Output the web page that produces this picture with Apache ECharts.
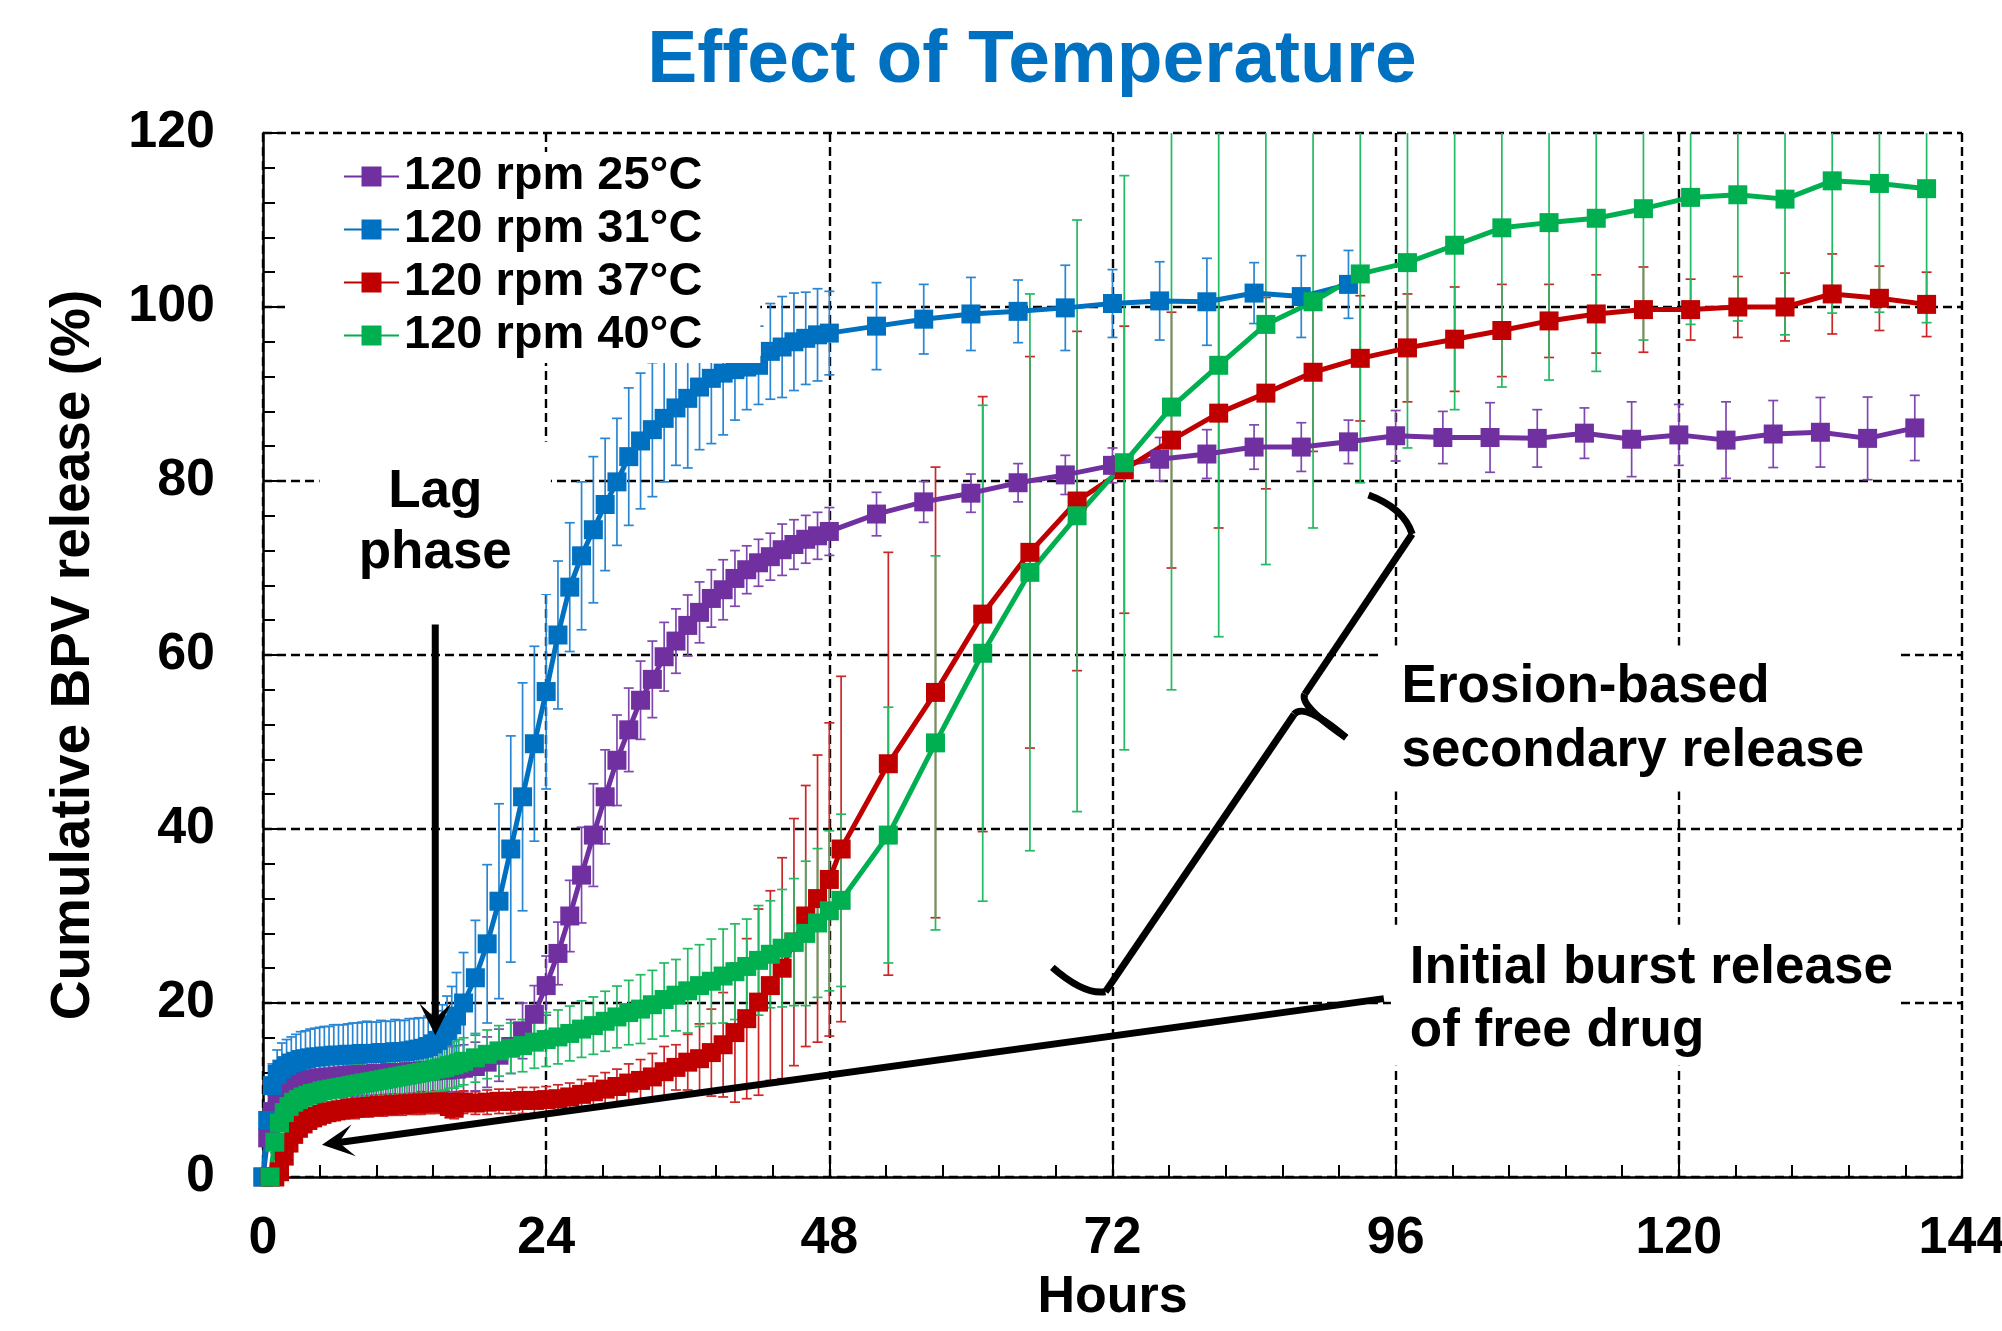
<!DOCTYPE html>
<html>
<head>
<meta charset="utf-8">
<title>Effect of Temperature</title>
<script src="https://cdn.jsdelivr.net/npm/echarts@6/dist/echarts.min.js"></script>
<style>
  html, body { margin: 0; padding: 0; background: #ffffff; }
  #chart { width: 2002px; height: 1331px; }
</style>
</head>
<body>
<div id="chart"></div>
<script>
// ---------------------------------------------------------------------------
// Cumulative BPV release (%) vs. time (h), 120 rpm, four incubation temperatures.
// Means with standard deviations.
// ---------------------------------------------------------------------------

// Sampling times (h) for the 25 °C and 31 °C runs
const HOURS_A = [
  0, 0.4, 0.8, 1.2, 1.6, 2, 2.4, 2.8, 3.2, 3.6, 4, 4.4, 4.8, 5.2, 5.6, 6, 6.4, 6.8, 7.2, 7.6,
  8, 8.4, 8.8, 9.2, 9.6, 10, 10.4, 10.8, 11.2, 11.6, 12, 12.4, 12.8, 13.2, 13.6, 14, 14.4, 14.8,
  15.2, 15.6, 16, 16.4,
  17, 18, 19, 20, 21, 22, 23, 24, 25, 26, 27, 28, 29, 30, 31, 32, 33, 34, 35, 36, 37, 38, 39, 40,
  41, 42, 43, 44, 45, 46, 47, 48,
  52, 56, 60, 64, 68, 72, 76, 80, 84, 88, 92, 96, 100, 104, 108, 112, 116, 120, 124, 128, 132, 136, 140
];

// Sampling times (h) for the 37 °C and 40 °C runs
const HOURS_B = [
  0.6, 1, 1.4, 1.8, 2.2, 2.6, 3, 3.4, 3.8, 4.2, 4.6, 5, 5.4, 5.8, 6.2, 6.6, 7, 7.4, 7.8, 8.2,
  8.6, 9, 9.4, 9.8, 10.2, 10.6, 11, 11.4, 11.8, 12.2, 12.6, 13, 13.4, 13.8, 14.2, 14.6, 15, 15.4,
  15.8, 16.2, 16.6,
  17, 18, 19, 20, 21, 22, 23, 24, 25, 26, 27, 28, 29, 30, 31, 32, 33, 34, 35, 36, 37, 38, 39, 40,
  41, 42, 43, 44, 45, 46, 47, 48, 49,
  53, 57, 61, 65, 69, 73, 77, 81, 85, 89, 93, 97, 101, 105, 109, 113, 117, 121, 125, 129, 133, 137, 141
];

const SERIES_NAMES = ['120 rpm 25°C', '120 rpm 31°C', '120 rpm 37°C', '120 rpm 40°C'];

// 120 rpm, 25 °C
const RELEASE_25C = [
  0, 4.5, 7.5, 9.0, 9.8, 10.3, 10.6, 10.8, 11.0, 11.1, 11.2, 11.3, 11.4, 11.4, 11.5, 11.5, 11.6, 11.6,
  11.7, 11.7, 11.7, 11.8, 11.8, 11.8, 11.9, 11.9, 11.9, 12.0, 12.0, 12.0, 12.0, 12.1, 12.1, 12.1, 12.2,
  12.2, 12.2, 12.3, 12.3, 12.3, 12.4, 12.4,
  12.5, 12.7, 13.2, 14.0, 15.0, 16.8, 18.7, 22.0, 25.7, 30.0, 34.7, 39.3, 43.7, 47.9, 51.4, 54.8, 57.2,
  59.8, 61.6, 63.4, 64.9, 66.5, 67.5, 68.8, 69.8, 70.6, 71.3, 72.1, 72.7, 73.3, 73.7, 74.2,
  76.2, 77.6, 78.6, 79.8, 80.7, 81.8, 82.5, 83.1, 83.9, 83.9, 84.5, 85.2, 85.0, 85.0, 84.9, 85.5, 84.8,
  85.3, 84.7, 85.4, 85.6, 84.9, 86.1
];
const SD_25C = [
  0, 1.4, 1.9, 2.1, 2.2, 2.3, 2.2, 2.3, 2.4, 2.3, 2.3, 2.4, 2.3, 2.4, 2.4, 2.3, 2.4, 2.5, 2.4, 2.4,
  2.5, 2.4, 2.5, 2.4, 2.5, 2.5, 2.4, 2.5, 2.5, 2.6, 2.5, 2.5, 2.6, 2.5, 2.6, 2.6, 2.5, 2.6, 2.6, 2.7,
  2.6, 2.7,
  2.7, 2.8, 2.9, 3.0, 3.1, 3.2, 3.3, 3.4, 3.6, 4.1, 5.5, 5.9, 5.4, 5.2, 4.8, 4.5, 4.4, 3.95, 3.7, 3.5,
  3.5, 3.3, 3.45, 3.2, 2.75, 2.7, 2.7, 2.95, 2.85, 2.75, 2.7, 2.75,
  2.5, 2.35, 2.2, 2.2, 2.25, 2.0, 2.5, 2.8, 2.55, 2.8, 2.5, 2.9, 3.0, 4.0, 3.3, 2.9, 4.3, 3.5, 4.4,
  3.85, 4.0, 4.75, 3.75
];

// 120 rpm, 31 °C
const RELEASE_31C = [
  0, 6.5, 10.5, 11.8, 12.4, 12.8, 13.1, 13.3, 13.5, 13.6, 13.7, 13.8, 13.8, 13.9, 13.9, 14.0, 14.0,
  14.0, 14.1, 14.1, 14.1, 14.2, 14.2, 14.2, 14.2, 14.3, 14.3, 14.3, 14.4, 14.4, 14.4, 14.5, 14.6, 14.7,
  14.8, 15.0, 15.3, 15.7, 16.2, 16.8, 17.5, 18.5,
  20.0, 22.9, 26.8, 31.7, 37.7, 43.7, 49.8, 55.8, 62.3, 67.8, 71.4, 74.4, 77.3, 79.9, 82.8, 84.6, 85.9,
  87.2, 88.4, 89.5, 90.8, 91.8, 92.4, 92.8, 93.1, 93.3, 94.9, 95.4, 96.0, 96.4, 96.8, 97.0,
  97.8, 98.6, 99.2, 99.5, 99.9, 100.4, 100.7, 100.6, 101.6, 101.2, 102.6
];
const SD_31C = [
  0, 2.0, 2.5, 2.8, 3.0, 3.0, 3.0, 3.1, 3.2, 3.2, 3.3, 3.3, 3.4, 3.4, 3.4, 3.5, 3.5, 3.5, 3.5, 3.6,
  3.6, 3.6, 3.7, 3.6, 3.6, 3.7, 3.6, 3.6, 3.7, 3.6, 3.6, 3.7, 3.6, 3.6, 3.5, 3.5, 3.4, 3.4, 3.6, 4.0,
  4.4, 5.0,
  5.8, 6.6, 9.1, 11.2, 13.0, 13.1, 11.2, 11.2, 8.5, 7.4, 8.5, 8.4, 7.6, 7.3, 7.9, 7.8, 7.7, 7.3, 6.6,
  8.0, 7.2, 7.5, 7.1, 5.8, 4.9, 4.5, 5.5, 5.8, 5.6, 5.3, 5.3, 4.8,
  5.0, 4.0, 4.2, 3.6, 4.9, 3.9, 4.5, 5.0, 3.5, 4.7, 3.9
];

// 120 rpm, 37 °C
const RELEASE_37C = [
  0, 0, 0.6, 2.4, 3.9, 4.9, 5.6, 6.1, 6.5, 6.8, 7.0, 7.2, 7.4, 7.5, 7.6, 7.7, 7.8, 7.9, 7.9, 8.0,
  8.0, 8.1, 8.1, 8.2, 8.2, 8.2, 8.3, 8.3, 8.3, 8.4, 8.4, 8.4, 8.5, 8.5, 8.5, 8.6, 8.6, 8.6, 8.1, 7.9,
  8.5,
  8.6, 8.5, 8.6, 8.7, 8.7, 8.8, 8.8, 8.9, 9.0, 9.2, 9.5, 9.8, 10.1, 10.4, 10.8, 11.1, 11.5, 12.1, 12.6,
  13.2, 13.6, 14.3, 15.2, 16.6, 18.2, 20.1, 22.0, 24.0, 27.0, 30.0, 32.0, 34.2, 37.7,
  47.5, 55.7, 64.7, 71.8, 77.7, 81.3, 84.7, 87.8, 90.1, 92.5, 94.1, 95.3, 96.3, 97.3, 98.4, 99.2, 99.7,
  99.7, 100.0, 100.0, 101.5, 101.0, 100.3
];
const SD_37C = [
  0, 0, 0.4, 0.7, 0.8, 0.9, 0.9, 1.0, 1.0, 1.1, 1.0, 1.1, 1.0, 1.1, 1.1, 1.0, 1.1, 1.1, 1.2, 1.1,
  1.1, 1.2, 1.1, 1.2, 1.2, 1.1, 1.2, 1.2, 1.2, 1.1, 1.2, 1.2, 1.3, 1.2, 1.2, 1.3, 1.2, 1.3, 1.3, 1.2,
  1.3,
  1.3, 1.3, 1.4, 1.4, 1.4, 1.5, 1.5, 1.5, 1.6, 1.6, 1.7, 1.8, 1.9, 2.0, 2.2, 2.4, 2.7, 2.9, 2.6, 3.2,
  4.0, 5.0, 6.0, 8.0, 9.2, 10.7, 10.9, 12.7, 14.2, 15.0, 16.5, 18.0, 19.85,
  24.3, 25.9, 25.0, 22.5, 19.5, 16.5, 14.7, 13.2, 11.0, 9.1, 7.2, 6.2, 6.0, 5.3, 4.2, 4.5, 4.9, 3.5,
  3.5, 3.9, 4.6, 3.7, 3.7
];

// 120 rpm, 40 °C
const RELEASE_40C = [
  0, 4.0, 6.2, 7.4, 8.1, 8.6, 8.9, 9.2, 9.4, 9.6, 9.7, 9.9, 10.0, 10.1, 10.2, 10.3, 10.4, 10.5, 10.6,
  10.7, 10.8, 10.9, 11.0, 11.1, 11.2, 11.3, 11.4, 11.5, 11.6, 11.7, 11.8, 11.9, 12.0, 12.1, 12.2, 12.4,
  12.5, 12.6, 12.8, 12.9, 13.1,
  13.3, 13.7, 14.1, 14.5, 14.8, 15.1, 15.5, 15.8, 16.1, 16.5, 17.0, 17.4, 17.9, 18.4, 18.9, 19.3, 19.8,
  20.4, 20.9, 21.4, 22.0, 22.5, 23.1, 23.6, 24.2, 24.9, 25.6, 26.3, 27.0, 28.0, 29.2, 30.6, 31.8,
  39.3, 49.9, 60.2, 69.5, 76.0, 82.1, 88.5, 93.3, 98.0, 100.6, 103.8, 105.1, 107.1, 109.1, 109.7,
  110.2, 111.3, 112.6, 112.9, 112.4, 114.5, 114.2, 113.6
];
const SD_40C = [
  0, 1.2, 1.6, 1.8, 1.9, 2.0, 2.0, 2.1, 2.1, 2.1, 2.2, 2.2, 2.2, 2.2, 2.3, 2.3, 2.3, 2.3, 2.3, 2.3,
  2.4, 2.4, 2.4, 2.4, 2.4, 2.4, 2.4, 2.5, 2.5, 2.5, 2.5, 2.5, 2.5, 2.5, 2.6, 2.6, 2.6, 2.6, 2.6, 2.7,
  2.7,
  2.7, 2.8, 2.8, 2.9, 2.9, 3.0, 3.0, 3.1, 3.1, 3.15, 3.25, 3.3, 3.45, 3.55, 3.7, 3.95, 3.95, 4.2, 4.1,
  4.85, 4.7, 4.85, 5.4, 5.5, 5.45, 6.3, 6.15, 6.75, 7.3, 8.3, 8.55, 9.2, 9.9,
  14.7, 21.5, 28.5, 32.0, 34.0, 33.0, 32.5, 31.2, 27.6, 26.0, 24.0, 21.3, 18.9, 18.3, 18.1, 17.6, 15.1,
  14.6, 14.5, 15.6, 15.2, 14.8, 15.4
];

// Axis ticks
const X_TICKS = [0, 24, 48, 72, 96, 120, 144];
const Y_TICKS = [0, 20, 40, 60, 80, 100, 120];

// ---------------------------------------------------------------------------
// Styling
// ---------------------------------------------------------------------------
const FONT = '"Liberation Sans", Arial, Helvetica, sans-serif';
const LINE_COLORS = ['#7030A0', '#0070C0', '#C00000', '#00B050'];
const BAR_COLORS  = ['#7F48B0', '#2A86D2', '#CC2626', '#22BA62'];

const runs = [
  { name: SERIES_NAMES[0], hours: HOURS_A, mean: RELEASE_25C, sd: SD_25C },
  { name: SERIES_NAMES[1], hours: HOURS_A, mean: RELEASE_31C, sd: SD_31C },
  { name: SERIES_NAMES[2], hours: HOURS_B, mean: RELEASE_37C, sd: SD_37C },
  { name: SERIES_NAMES[3], hours: HOURS_B, mean: RELEASE_40C, sd: SD_40C }
];

// Vertical SD whisker with end caps
function renderWhisker(params, api) {
  const x = api.value(0);
  const lo = api.coord([x, api.value(1)]);
  const hi = api.coord([x, api.value(2)]);
  const cap = 5;
  const style = { stroke: api.visual('color'), lineWidth: 1.7, fill: null };
  return {
    type: 'group',
    children: [
      { type: 'line', shape: { x1: hi[0], y1: hi[1], x2: lo[0], y2: lo[1] }, style: style },
      { type: 'line', shape: { x1: hi[0] - cap, y1: hi[1], x2: hi[0] + cap, y2: hi[1] }, style: style },
      { type: 'line', shape: { x1: lo[0] - cap, y1: lo[1], x2: lo[0] + cap, y2: lo[1] }, style: style }
    ]
  };
}

const whiskerSeries = runs.map((run, k) => ({
  name: run.name + ' SD',
  type: 'custom',
  z: 2,
  clip: true,
  silent: true,
  animation: false,
  itemStyle: { color: BAR_COLORS[k] },
  encode: { x: 0, y: [1, 2] },
  data: run.mean.map((m, i) => [run.hours[i], m - run.sd[i], m + run.sd[i]]),
  renderItem: renderWhisker
}));

const meanSeries = runs.map((run, k) => ({
  name: run.name,
  type: 'line',
  z: 3,
  clip: false,
  animation: false,
  symbol: 'rect',
  symbolSize: 19,
  showAllSymbol: true,
  lineStyle: { color: LINE_COLORS[k], width: 5 },
  itemStyle: { color: LINE_COLORS[k] },
  emphasis: { disabled: true },
  data: run.mean.map((m, i) => [run.hours[i], m])
}));

const dashed = { show: true, lineStyle: { color: '#000', width: 2.4, type: [9, 5] } };
const axisLine = { show: true, onZero: false, lineStyle: { color: '#000', width: 2.5 } };
const tickLabel = { color: '#000', fontFamily: FONT, fontWeight: 'bold', fontSize: 52 };

const chart = echarts.init(document.getElementById('chart'), null, {
  renderer: 'canvas', width: 2002, height: 1331
});

chart.setOption({
  backgroundColor: '#ffffff',
  animation: false,
  title: {
    text: 'Effect of Temperature',
    left: 1032,
    top: 24,
    textAlign: 'center',
    padding: 0,
    textStyle: { color: '#0070C0', fontFamily: FONT, fontWeight: 'bold', fontSize: 75 }
  },
  grid: {
    left: 263, right: 40, top: 133, bottom: 154,
    containLabel: false, outerBoundsMode: 'none'
  },
  legend: {
    data: SERIES_NAMES,
    orient: 'vertical',
    left: 285,
    top: 152,
    z: 6,
    backgroundColor: '#ffffff',
    padding: [1, 58, 4, 58],
    itemWidth: 55,
    itemHeight: 25,
    itemGap: 6,
    selectedMode: false,
    textStyle: { color: '#000', fontFamily: FONT, fontWeight: 'bold', fontSize: 47, lineHeight: 47 }
  },
  xAxis: {
    type: 'value',
    min: X_TICKS[0],
    max: X_TICKS[X_TICKS.length - 1],
    interval: X_TICKS[1] - X_TICKS[0],
    name: 'Hours',
    nameLocation: 'middle',
    nameGap: 95,
    nameTextStyle: { color: '#000', fontFamily: FONT, fontWeight: 'bold', fontSize: 52 },
    axisLine: axisLine,
    axisTick: { show: true, inside: true, length: 22, lineStyle: { color: '#000', width: 2 } },
    minorTick: { show: true, splitNumber: 5, length: 12, lineStyle: { color: '#000', width: 2 } },
    axisLabel: Object.assign({ margin: 36 }, tickLabel),
    splitLine: dashed,
    minorSplitLine: { show: false }
  },
  yAxis: {
    type: 'value',
    min: Y_TICKS[0],
    max: Y_TICKS[Y_TICKS.length - 1],
    interval: Y_TICKS[1] - Y_TICKS[0],
    name: 'Cumulative BPV release (%)',
    nameLocation: 'middle',
    nameGap: 162,
    nameTextStyle: { color: '#000', fontFamily: FONT, fontWeight: 'bold', fontSize: 55 },
    axisLine: axisLine,
    axisTick: { show: true, inside: true, length: 22, lineStyle: { color: '#000', width: 2 } },
    minorTick: { show: true, splitNumber: 5, length: 12, lineStyle: { color: '#000', width: 2 } },
    axisLabel: Object.assign({ margin: 48 }, tickLabel),
    splitLine: dashed,
    minorSplitLine: { show: false }
  },
  series: whiskerSeries.concat(meanSeries)
});

// ---------------------------------------------------------------------------
// Annotations, anchored in data space (hours, % released)
// ---------------------------------------------------------------------------
const toPx = (p) => chart.convertToPixel({ gridIndex: 0 }, p);
const NOTE_FONT = 'bold 53px ' + FONT;
const INK = { stroke: '#000', lineWidth: 7, fill: null, lineCap: 'butt' };

function whiteBox(a, b) {
  const p = toPx(a), q = toPx(b);
  return {
    type: 'rect', z: 5, silent: true,
    shape: { x: Math.min(p[0], q[0]), y: Math.min(p[1], q[1]),
             width: Math.abs(q[0] - p[0]), height: Math.abs(q[1] - p[1]) },
    style: { fill: '#ffffff' }
  };
}
function label(text, at, align) {
  const p = toPx(at);
  return {
    type: 'text', z: 7, silent: true,
    style: {
      text: text, x: p[0], y: p[1], font: NOTE_FONT, fill: '#000',
      align: align, verticalAlign: 'middle', textAlign: align, textVerticalAlign: 'middle'
    }
  };
}
function segment(a, b) {
  const p = toPx(a), q = toPx(b);
  return { type: 'line', z: 7, silent: true,
           shape: { x1: p[0], y1: p[1], x2: q[0], y2: q[1] }, style: INK };
}
function curve(a, c, b) {
  const p = toPx(a), k = toPx(c), q = toPx(b);
  return { type: 'bezierCurve', z: 7, silent: true,
           shape: { x1: p[0], y1: p[1], cpx1: k[0], cpy1: k[1], x2: q[0], y2: q[1] }, style: INK };
}
function arrow(from, to) {
  const a = toPx(from), b = toPx(to);
  const len = Math.hypot(b[0] - a[0], b[1] - a[1]);
  const ux = (b[0] - a[0]) / len, uy = (b[1] - a[1]) / len;
  const nx = -uy, ny = ux;
  const headLen = 32, halfW = 16, notch = 17;
  const back = [b[0] - ux * headLen, b[1] - uy * headLen];
  const mid = [b[0] - ux * notch, b[1] - uy * notch];
  return [
    { type: 'line', z: 7, silent: true,
      shape: { x1: a[0], y1: a[1], x2: mid[0], y2: mid[1] },
      style: { stroke: '#000', lineWidth: 7 } },
    { type: 'polygon', z: 7, silent: true,
      shape: { points: [b, [back[0] + nx * halfW, back[1] + ny * halfW], mid,
                        [back[0] - nx * halfW, back[1] - ny * halfW]] },
      style: { fill: '#000' } }
  ];
}
// Curly brace spanning the erosion phase
function brace(p) {
  return [
    curve(p[0], p[1], p[2]),
    segment(p[2], p[3]),
    curve(p[3], p[4], p[5]),
    curve(p[5], p[6], p[7]),
    segment(p[7], p[8]),
    curve(p[8], p[9], p[10])
  ];
}

const graphics = [
  whiteBox([4.8, 84.5], [24.4, 67.0]),
  whiteBox([94.6, 61.1], [138.7, 44.3]),
  whiteBox([95.6, 29.0], [138.7, 12.8]),
  label('Lag', [14.6, 78.7], 'center'),
  label('phase', [14.6, 71.7], 'center'),
  label('Erosion-based', [96.5, 56.3], 'left'),
  label('secondary release', [96.5, 48.9], 'left'),
  label('Initial burst release', [97.2, 24.0], 'left'),
  label('of free drug', [97.2, 16.7], 'left')
].concat(
  brace([[93.7, 78.4], [96.7, 76.9], [97.4, 73.9], [88.3, 55.5], [87.8, 54.2], [91.8, 50.5],
         [88.3, 54.6], [87.4, 53.2], [71.4, 21.3], [69.6, 20.9], [66.9, 24.1]]),
  arrow([14.6, 63.5], [14.6, 16.3]),
  arrow([95.0, 20.5], [5.0, 3.7])
);

chart.setOption({ graphic: { elements: graphics } });
</script>
</body>
</html>
